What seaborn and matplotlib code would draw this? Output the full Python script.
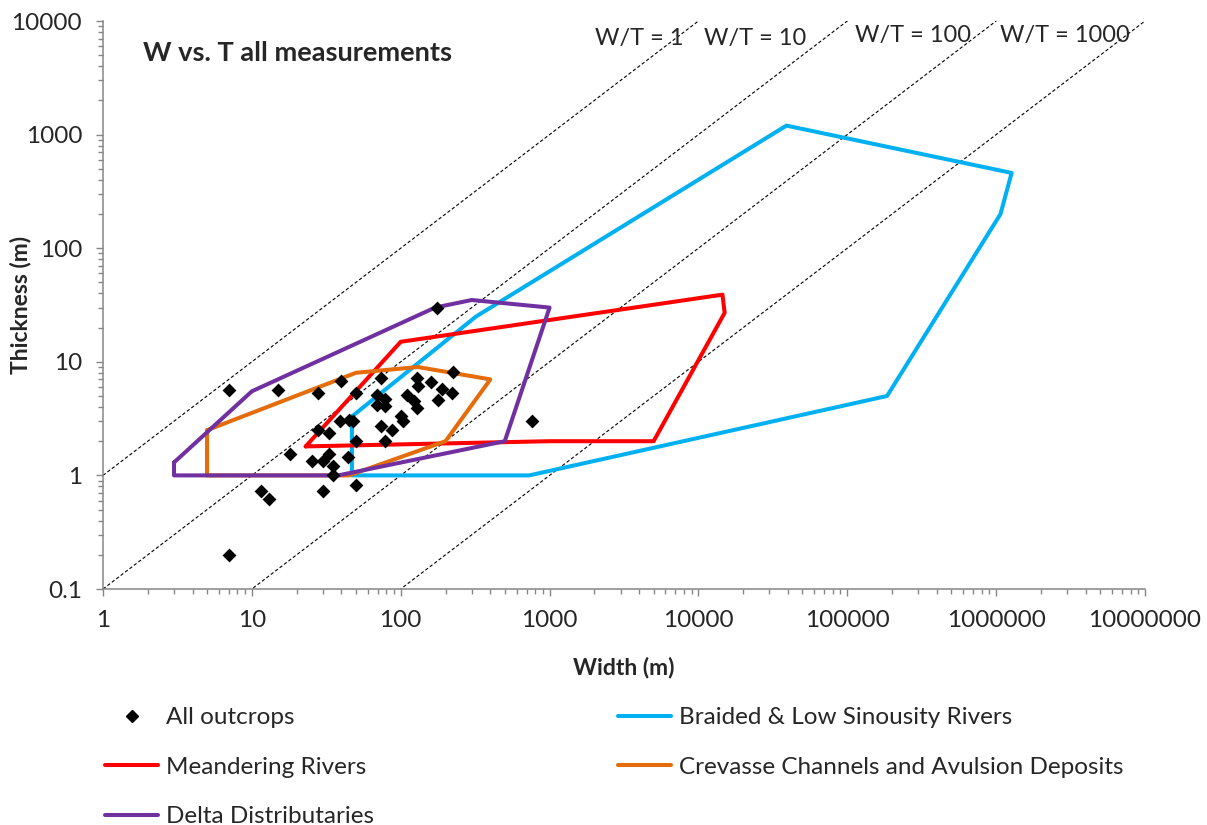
import numpy as np
import pandas as pd
import matplotlib
matplotlib.use('Agg')
import matplotlib.pyplot as plt
import seaborn as sns
from matplotlib.lines import Line2D
from matplotlib.ticker import LogLocator, NullFormatter

# measured outcrops, width and thickness (m)
outcrop_w = [175, 7, 15, 28, 40, 50, 74, 128, 160, 225, 130, 190, 220, 69, 78,
             69, 78, 110, 123, 128, 177, 100, 104, 39, 45, 48, 28, 33, 74, 88,
             50, 79, 18, 25.5, 30, 33, 44, 35, 35, 11.6, 13, 30, 50, 7, 760]
outcrop_t = [30, 5.7, 5.7, 5.3, 6.8, 5.3, 7.2, 7.2, 6.6, 8.2, 6.1, 5.8, 5.3, 5.1, 4.7,
             4.2, 4.1, 5.1, 4.5, 3.9, 4.6, 3.3, 3.0, 3.0, 3.1, 3.0, 2.5, 2.35, 2.7, 2.5,
             2.0, 2.0, 1.55, 1.35, 1.35, 1.55, 1.45, 1.2, 1.0, 0.73, 0.62, 0.73, 0.82, 0.2, 3.0]

# outline fields of the river types (closed polygons)
braided_w = [47, 320, 39000, 1270000, 1070000, 185000, 730, 47, 47]
braided_t = [3.3, 25, 1200, 460, 200, 5, 1, 1, 3.3]

meander_w = [23, 100, 14500, 15000, 5000, 1000, 23]
meander_t = [1.8, 15, 39, 27, 2, 2, 1.8]

crevasse_w = [5, 50, 130, 400, 200, 45, 5, 5]
crevasse_t = [2.5, 8, 9, 7, 2, 1, 1, 2.5]

delta_w = [3, 10, 170, 300, 1000, 500, 38, 3, 3]
delta_t = [1.3, 5.5, 30, 35, 30, 2, 1, 1, 1.3]

wt_ratios = [1, 10, 100, 1000]
wt_labels = ['W/T = 1', 'W/T = 10', 'W/T = 100', 'W/T = 1000']

x_ticks = [1, 10, 100, 1000, 10000, 100000, 1000000, 10000000]
x_tick_labels = ['1', '10', '100', '1000', '10000', '100000', '1000000', '10000000']
y_ticks = [0.1, 1, 10, 100, 1000, 10000]
y_tick_labels = ['0.1', '1', '10', '100', '1000', '10000']

sns.set_style("ticks")
plt.rcParams['font.family'] = ['Lato', 'DejaVu Sans']

W, H = 1207, 825
fig = plt.figure(figsize=(W / 100, H / 100), dpi=100)
ax = fig.add_axes([103 / W, 1 - 589 / H, (1145 - 103) / W, (589 - 21) / H])
ax.set_xscale('log')
ax.set_yscale('log')
ax.set_xlim(1, 1e7)
ax.set_ylim(0.1, 1e4)

# W/T reference lines
for r in wt_ratios:
    w = np.array([1, 1e7])
    ax.plot(w, w / r, color='black', lw=0.8, ls=(0, (3, 2)), zorder=1)

fields = [
    ('Braided & Low Sinousity Rivers', braided_w, braided_t, '#00B0F0'),
    ('Meandering Rivers', meander_w, meander_t, '#FF0000'),
    ('Crevasse Channels and Avulsion Deposits', crevasse_w, crevasse_t, '#E46C0A'),
    ('Delta Distributaries', delta_w, delta_t, '#7030A0'),
]
for name, fw, ft, c in fields:
    df = pd.DataFrame({'W': fw, 'T': ft})
    sns.lineplot(data=df, x='W', y='T', sort=False, estimator=None, color=c,
                 lw=2.9, ax=ax, zorder=3)

sns.scatterplot(x=outcrop_w, y=outcrop_t, marker='D', s=50, color='black',
                linewidth=0, ax=ax, zorder=5, legend=False)

# axes look
for s in ['top', 'right']:
    ax.spines[s].set_visible(False)
for s in ['left', 'bottom']:
    ax.spines[s].set_color('#868686')
    ax.spines[s].set_linewidth(1.1)
ax.set_xticks(x_ticks, labels=x_tick_labels)
ax.set_yticks(y_ticks, labels=y_tick_labels)
ax.xaxis.set_minor_locator(LogLocator(base=10, subs=np.arange(2, 10), numticks=20))
ax.yaxis.set_minor_locator(LogLocator(base=10, subs=np.arange(2, 10), numticks=20))
ax.xaxis.set_minor_formatter(NullFormatter())
ax.yaxis.set_minor_formatter(NullFormatter())
ax.tick_params(which='major', direction='out', length=5, width=1, color='#868686',
               pad=10, labelsize=17.5)
ax.tick_params(which='minor', direction='out', length=3.5, width=1, color='#868686')

ax.set_xlabel('Width (m)', fontsize=16.5, fontweight='bold')
ax.set_ylabel('Thickness (m)', fontsize=16.5, fontweight='bold')
ax.xaxis.set_label_coords(0.5, (589 - 657) / 568)
ax.yaxis.set_label_coords((31 - 103) / 1042, 0.5)

ax.text(0.038, 0.944, 'W vs. T all measurements', transform=ax.transAxes,
        fontsize=19.5, fontweight='bold', ha='left', va='center')

wt_pos = [(0.515, 0.970), (0.626, 0.970), (0.777, 0.974), (0.923, 0.974)]
for lab, (px, py) in zip(wt_labels, wt_pos):
    ax.text(px, py, lab, transform=ax.transAxes, fontsize=17, ha='center', va='center')

# legend in two columns
def line_handle(c):
    return Line2D([], [], color=c, lw=2.9)

h1 = [Line2D([], [], marker='D', color='black', ls='none', ms=6),
      line_handle('#FF0000'), line_handle('#7030A0')]
l1 = ['All outcrops', 'Meandering Rivers', 'Delta Distributaries']
h2 = [line_handle('#00B0F0'), line_handle('#E46C0A')]
l2 = ['Braided & Low Sinousity Rivers', 'Crevasse Channels and Avulsion Deposits']

leg_kw = dict(loc='upper left', frameon=False, handlelength=2.2, handletextpad=0.3,
              labelspacing=1.18, fontsize=17.5, borderaxespad=0, borderpad=0)
leg1 = fig.legend(h1, l1, bbox_to_anchor=(105 / W, 1 - 707 / H), **leg_kw)
leg2 = fig.legend(h2, l2, bbox_to_anchor=(618 / W, 1 - 707 / H), **leg_kw)

fig.savefig('out.png', dpi=100)
